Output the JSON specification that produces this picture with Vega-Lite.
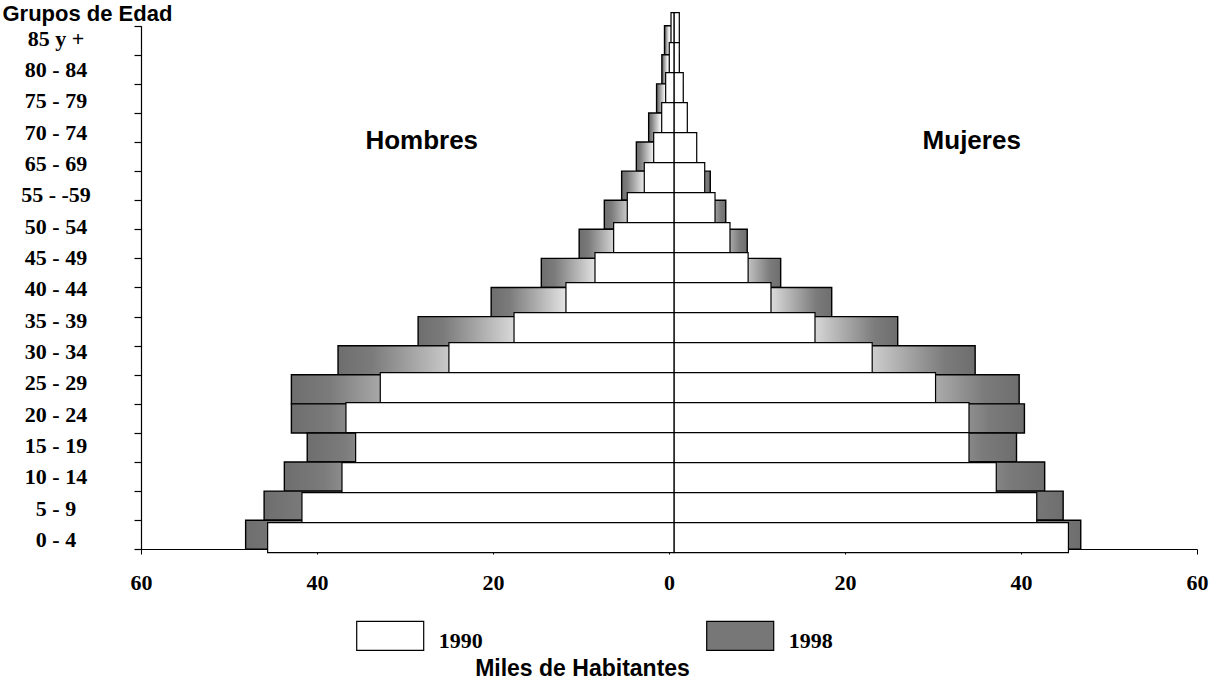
{
  "$schema": "https://vega.github.io/schema/vega-lite/v6.json",
  "width": 1056,
  "height": 537,
  "autosize": {"type": "none"},
  "padding": {"left": 141, "top": 12, "right": 15, "bottom": 136},
  "background": "white",
  "config": {
    "view": {"stroke": null},
    "axis": {"domainColor": "black", "tickColor": "black", "labelColor": "black", "titleColor": "black", "grid": false}
  },
  "datasets": {
    "poblacion": [
      {"grupo": "85 y +", "sexo": "Hombres", "anio": "1990", "valor": -0.36},
      {"grupo": "80 - 84", "sexo": "Hombres", "anio": "1990", "valor": -0.56},
      {"grupo": "75 - 79", "sexo": "Hombres", "anio": "1990", "valor": -0.97},
      {"grupo": "70 - 74", "sexo": "Hombres", "anio": "1990", "valor": -1.42},
      {"grupo": "65 - 69", "sexo": "Hombres", "anio": "1990", "valor": -2.33},
      {"grupo": "60 - 64", "sexo": "Hombres", "anio": "1990", "valor": -3.4},
      {"grupo": "55 - 59", "sexo": "Hombres", "anio": "1990", "valor": -5.33},
      {"grupo": "50 - 54", "sexo": "Hombres", "anio": "1990", "valor": -6.88},
      {"grupo": "45 - 49", "sexo": "Hombres", "anio": "1990", "valor": -9.0},
      {"grupo": "40 - 44", "sexo": "Hombres", "anio": "1990", "valor": -12.3},
      {"grupo": "35 - 39", "sexo": "Hombres", "anio": "1990", "valor": -18.2},
      {"grupo": "30 - 34", "sexo": "Hombres", "anio": "1990", "valor": -25.6},
      {"grupo": "25 - 29", "sexo": "Hombres", "anio": "1990", "valor": -33.4},
      {"grupo": "20 - 24", "sexo": "Hombres", "anio": "1990", "valor": -37.3},
      {"grupo": "15 - 19", "sexo": "Hombres", "anio": "1990", "valor": -36.2},
      {"grupo": "10 - 14", "sexo": "Hombres", "anio": "1990", "valor": -37.75},
      {"grupo": "5 - 9", "sexo": "Hombres", "anio": "1990", "valor": -42.3},
      {"grupo": "0 - 4", "sexo": "Hombres", "anio": "1990", "valor": -46.2},
      {"grupo": "85 y +", "sexo": "Mujeres", "anio": "1990", "valor": 0.58},
      {"grupo": "80 - 84", "sexo": "Mujeres", "anio": "1990", "valor": 0.58},
      {"grupo": "75 - 79", "sexo": "Mujeres", "anio": "1990", "valor": 1.03},
      {"grupo": "70 - 74", "sexo": "Mujeres", "anio": "1990", "valor": 1.49},
      {"grupo": "65 - 69", "sexo": "Mujeres", "anio": "1990", "valor": 2.56},
      {"grupo": "60 - 64", "sexo": "Mujeres", "anio": "1990", "valor": 3.47},
      {"grupo": "55 - 59", "sexo": "Mujeres", "anio": "1990", "valor": 4.64},
      {"grupo": "50 - 54", "sexo": "Mujeres", "anio": "1990", "valor": 6.34},
      {"grupo": "45 - 49", "sexo": "Mujeres", "anio": "1990", "valor": 8.4},
      {"grupo": "40 - 44", "sexo": "Mujeres", "anio": "1990", "valor": 11.0},
      {"grupo": "35 - 39", "sexo": "Mujeres", "anio": "1990", "valor": 16.0},
      {"grupo": "30 - 34", "sexo": "Mujeres", "anio": "1990", "valor": 22.5},
      {"grupo": "25 - 29", "sexo": "Mujeres", "anio": "1990", "valor": 29.7},
      {"grupo": "20 - 24", "sexo": "Mujeres", "anio": "1990", "valor": 33.5},
      {"grupo": "15 - 19", "sexo": "Mujeres", "anio": "1990", "valor": 33.5},
      {"grupo": "10 - 14", "sexo": "Mujeres", "anio": "1990", "valor": 36.6},
      {"grupo": "5 - 9", "sexo": "Mujeres", "anio": "1990", "valor": 41.2},
      {"grupo": "0 - 4", "sexo": "Mujeres", "anio": "1990", "valor": 44.8},
      {"grupo": "85 y +", "sexo": "Hombres", "anio": "1998", "valor": -1.1},
      {"grupo": "80 - 84", "sexo": "Hombres", "anio": "1998", "valor": -1.4},
      {"grupo": "75 - 79", "sexo": "Hombres", "anio": "1998", "valor": -2.0},
      {"grupo": "70 - 74", "sexo": "Hombres", "anio": "1998", "valor": -2.9},
      {"grupo": "65 - 69", "sexo": "Hombres", "anio": "1998", "valor": -4.3},
      {"grupo": "60 - 64", "sexo": "Hombres", "anio": "1998", "valor": -5.97},
      {"grupo": "55 - 59", "sexo": "Hombres", "anio": "1998", "valor": -7.94},
      {"grupo": "50 - 54", "sexo": "Hombres", "anio": "1998", "valor": -10.8},
      {"grupo": "45 - 49", "sexo": "Hombres", "anio": "1998", "valor": -15.1},
      {"grupo": "40 - 44", "sexo": "Hombres", "anio": "1998", "valor": -20.8},
      {"grupo": "35 - 39", "sexo": "Hombres", "anio": "1998", "valor": -29.1},
      {"grupo": "30 - 34", "sexo": "Hombres", "anio": "1998", "valor": -38.2},
      {"grupo": "25 - 29", "sexo": "Hombres", "anio": "1998", "valor": -43.5},
      {"grupo": "20 - 24", "sexo": "Hombres", "anio": "1998", "valor": -43.5},
      {"grupo": "15 - 19", "sexo": "Hombres", "anio": "1998", "valor": -41.7},
      {"grupo": "10 - 14", "sexo": "Hombres", "anio": "1998", "valor": -44.3},
      {"grupo": "5 - 9", "sexo": "Hombres", "anio": "1998", "valor": -46.6},
      {"grupo": "0 - 4", "sexo": "Hombres", "anio": "1998", "valor": -48.7},
      {"grupo": "85 y +", "sexo": "Mujeres", "anio": "1998", "valor": 0.5},
      {"grupo": "80 - 84", "sexo": "Mujeres", "anio": "1998", "valor": 0.55},
      {"grupo": "75 - 79", "sexo": "Mujeres", "anio": "1998", "valor": 0.95},
      {"grupo": "70 - 74", "sexo": "Mujeres", "anio": "1998", "valor": 1.4},
      {"grupo": "65 - 69", "sexo": "Mujeres", "anio": "1998", "valor": 2.4},
      {"grupo": "60 - 64", "sexo": "Mujeres", "anio": "1998", "valor": 4.1},
      {"grupo": "55 - 59", "sexo": "Mujeres", "anio": "1998", "valor": 5.86},
      {"grupo": "50 - 54", "sexo": "Mujeres", "anio": "1998", "valor": 8.3},
      {"grupo": "45 - 49", "sexo": "Mujeres", "anio": "1998", "valor": 12.1},
      {"grupo": "40 - 44", "sexo": "Mujeres", "anio": "1998", "valor": 17.9},
      {"grupo": "35 - 39", "sexo": "Mujeres", "anio": "1998", "valor": 25.4},
      {"grupo": "30 - 34", "sexo": "Mujeres", "anio": "1998", "valor": 34.2},
      {"grupo": "25 - 29", "sexo": "Mujeres", "anio": "1998", "valor": 39.2},
      {"grupo": "20 - 24", "sexo": "Mujeres", "anio": "1998", "valor": 39.8},
      {"grupo": "15 - 19", "sexo": "Mujeres", "anio": "1998", "valor": 38.9},
      {"grupo": "10 - 14", "sexo": "Mujeres", "anio": "1998", "valor": 42.1},
      {"grupo": "5 - 9", "sexo": "Mujeres", "anio": "1998", "valor": 44.2},
      {"grupo": "0 - 4", "sexo": "Mujeres", "anio": "1998", "valor": 46.2}
    ],
    "etiquetas": [
      {"etiqueta": "85 y +"}, {"etiqueta": "80 - 84"}, {"etiqueta": "75 - 79"}, {"etiqueta": "70 - 74"},
      {"etiqueta": "65 - 69"}, {"etiqueta": "55 - -59"}, {"etiqueta": "50 - 54"}, {"etiqueta": "45 - 49"},
      {"etiqueta": "40 - 44"}, {"etiqueta": "35 - 39"}, {"etiqueta": "30 - 34"}, {"etiqueta": "25 - 29"},
      {"etiqueta": "20 - 24"}, {"etiqueta": "15 - 19"}, {"etiqueta": "10 - 14"}, {"etiqueta": "5 - 9"},
      {"etiqueta": "0 - 4"}
    ]
  },
  "layer": [
    {
      "data": {"name": "poblacion"},
      "transform": [{"filter": "datum.anio == '1998'"}],
      "mark": {
        "type": "bar",
        "fill": {
          "gradient": "linear", "x1": 0, "y1": 0, "x2": 1, "y2": 0,
          "stops": [
            {"offset": 0, "color": "#6e6e6e"},
            {"offset": 0.1, "color": "#7b7b7b"},
            {"offset": 0.45, "color": "#f2f2f2"},
            {"offset": 0.55, "color": "#f2f2f2"},
            {"offset": 0.9, "color": "#7b7b7b"},
            {"offset": 1, "color": "#6e6e6e"}
          ]
        },
        "stroke": "black",
        "strokeWidth": 1.4
      },
      "encoding": {
        "x": {"field": "valor", "type": "quantitative", "scale": {"domain": [-60.59, 59.41], "nice": false, "zero": false}, "axis": null},
        "x2": {"datum": 0},
        "y": {
          "field": "grupo", "type": "nominal",
          "scale": {"type": "band", "domain": ["85 y +", "80 - 84", "75 - 79", "70 - 74", "65 - 69", "60 - 64", "55 - 59", "50 - 54", "45 - 49", "40 - 44", "35 - 39", "30 - 34", "25 - 29", "20 - 24", "15 - 19", "10 - 14", "5 - 9", "0 - 4"], "range": [13.7, 537.3], "paddingInner": 0, "paddingOuter": 0},
          "axis": {
            "orient": "left", "labels": false, "ticks": true, "tickSize": 7, "tickBand": "extent",
            "domain": true, "domainColor": "black", "tickColor": "black", "domainWidth": 1.2, "tickWidth": 1.2,
            "title": "Grupos de Edad", "titleAngle": 0, "titleAlign": "left", "titleBaseline": "alphabetic",
            "titleX": -139, "titleY": 8, "titleFont": "Liberation Sans", "titleFontSize": 22, "titleFontWeight": "bold", "titleColor": "black"
          }
        }
      }
    },
    {
      "data": {"name": "poblacion"},
      "transform": [{"filter": "datum.anio == '1990'"}],
      "mark": {"type": "bar", "stroke": "black", "strokeWidth": 1.2, "opacity": 1},
      "encoding": {
        "x": {"field": "valor", "type": "quantitative", "scale": {"domain": [-60.59, 59.41], "nice": false, "zero": false}, "axis": null},
        "x2": {"datum": 0},
        "y": {
          "field": "grupo", "type": "nominal",
          "scale": {"type": "band", "domain": ["85 y +", "80 - 84", "75 - 79", "70 - 74", "65 - 69", "60 - 64", "55 - 59", "50 - 54", "45 - 49", "40 - 44", "35 - 39", "30 - 34", "25 - 29", "20 - 24", "15 - 19", "10 - 14", "5 - 9", "0 - 4"], "range": [0.7, 540.7], "paddingInner": 0, "paddingOuter": 0},
          "axis": null
        },
        "color": {
          "field": "anio", "type": "nominal",
          "scale": {"domain": ["1990", "1998"], "range": ["white", "#777777"]},
          "legend": {
            "orient": "none", "legendX": 214.7, "legendY": 594, "direction": "horizontal", "title": null,
            "symbolType": "M-1,-0.583H1V0.283H-1Z", "symbolSize": 4489, "symbolStrokeColor": "black", "symbolStrokeWidth": 1.2,
            "labelFont": "Liberation Serif", "labelFontWeight": "bold", "labelFontSize": 22, "labelColor": "black",
            "labelOffset": 14, "columnPadding": 221, "padding": 0
          }
        }
      }
    },
    {
      "data": {"name": "etiquetas"},
      "mark": {"type": "text", "font": "Liberation Serif", "fontWeight": "bold", "fontSize": 22, "align": "center", "baseline": "middle", "color": "black"},
      "encoding": {
        "x": {
          "datum": -69.66, "type": "quantitative",
          "scale": {"domain": [-60, 60], "nice": false, "zero": false},
          "axis": {
            "orient": "bottom", "values": [-60, -40, -20, 0, 20, 40, 60], "labelExpr": "abs(datum.value)",
            "tickSize": 5, "labelPadding": 18.5, "labelBaseline": "top", "labelFlush": false, "labelOverlap": false,
            "labelFont": "Liberation Serif", "labelFontWeight": "bold", "labelFontSize": 22, "labelColor": "black",
            "domainColor": "black", "tickColor": "black", "domainWidth": 1.2, "grid": false,
            "title": "Miles de Habitantes", "titleFont": "Liberation Sans", "titleFontWeight": "bold", "titleFontSize": 23,
            "titleX": 441, "titleY": 126, "titleBaseline": "alphabetic", "titleAlign": "center", "titleColor": "black"
          }
        },
        "y": {
          "field": "etiqueta", "type": "nominal",
          "scale": {"type": "point", "domain": ["85 y +", "80 - 84", "75 - 79", "70 - 74", "65 - 69", "55 - -59", "50 - 54", "45 - 49", "40 - 44", "35 - 39", "30 - 34", "25 - 29", "20 - 24", "15 - 19", "10 - 14", "5 - 9", "0 - 4"], "range": [26.8, 528], "padding": 0},
          "axis": null
        },
        "text": {"field": "etiqueta"}
      }
    },
    {
      "data": {"values": [{}]},
      "mark": {"type": "text", "text": "Hombres", "font": "Liberation Sans", "fontWeight": "bold", "fontSize": 26, "align": "center", "baseline": "middle", "dy": -7, "color": "black"},
      "encoding": {
        "x": {"datum": -28.1, "type": "quantitative", "scale": {"domain": [-60, 60], "nice": false, "zero": false}, "axis": null},
        "y": {"datum": "65 - 69", "type": "nominal", "scale": {"type": "band", "domain": ["85 y +", "80 - 84", "75 - 79", "70 - 74", "65 - 69", "60 - 64", "55 - 59", "50 - 54", "45 - 49", "40 - 44", "35 - 39", "30 - 34", "25 - 29", "20 - 24", "15 - 19", "10 - 14", "5 - 9", "0 - 4"], "range": [0.7, 540.7], "paddingInner": 0, "paddingOuter": 0}, "axis": null}
      }
    },
    {
      "data": {"values": [{}]},
      "mark": {"type": "text", "text": "Mujeres", "font": "Liberation Sans", "fontWeight": "bold", "fontSize": 26, "align": "center", "baseline": "middle", "dy": -7, "color": "black"},
      "encoding": {
        "x": {"datum": 34.4, "type": "quantitative", "scale": {"domain": [-60, 60], "nice": false, "zero": false}, "axis": null},
        "y": {"datum": "65 - 69", "type": "nominal", "scale": {"type": "band", "domain": ["85 y +", "80 - 84", "75 - 79", "70 - 74", "65 - 69", "60 - 64", "55 - 59", "50 - 54", "45 - 49", "40 - 44", "35 - 39", "30 - 34", "25 - 29", "20 - 24", "15 - 19", "10 - 14", "5 - 9", "0 - 4"], "range": [0.7, 540.7], "paddingInner": 0, "paddingOuter": 0}, "axis": null}
      }
    }
  ],
  "resolve": {
    "scale": {"x": "independent", "y": "independent"},
    "axis": {"x": "independent", "y": "independent"}
  }
}
